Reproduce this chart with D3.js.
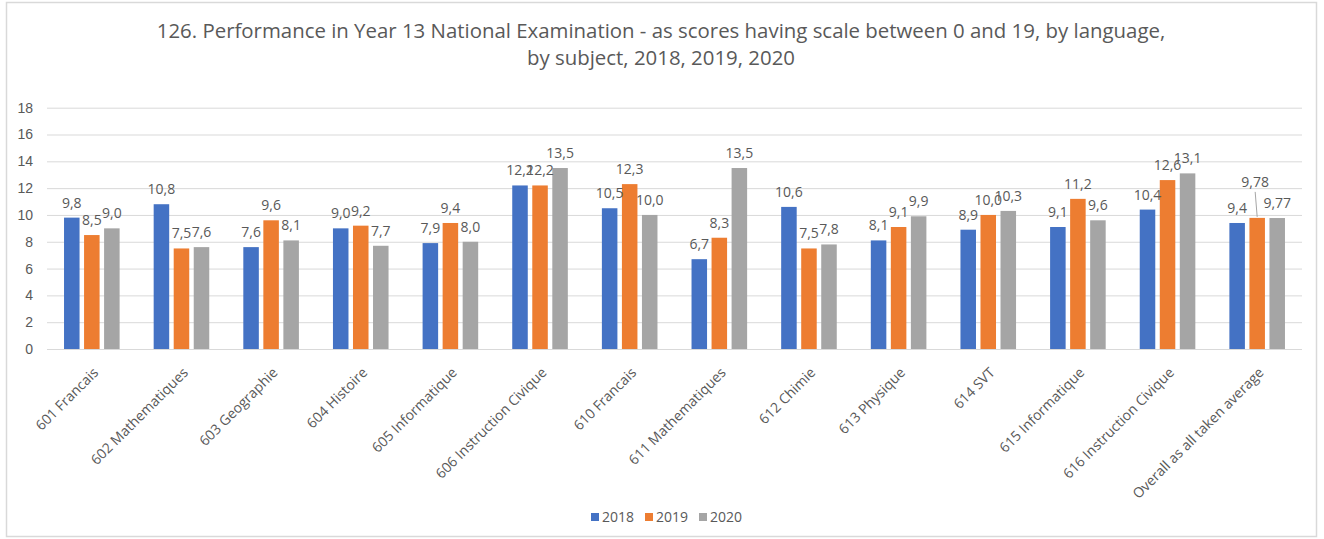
<!DOCTYPE html>
<html>
<head>
<meta charset="utf-8">
<script src="https://cdn.jsdelivr.net/npm/d3@7"></script>
<style>
  body { margin: 0; background: #fff; }
  svg { font-family: "Open Sans", sans-serif; }
  .tick line { stroke: #d9d9d9; }
  .tick text { fill: #595959; font-size: 14px; }
  .lbl { fill: #595959; font-size: 14px; }
</style>
</head>
<body>
<svg id="chart" width="1324" height="539"></svg>
<script>
// chart values
const categories = ["601 Francais", "602 Mathematiques", "603 Geographie", "604 Histoire",
  "605 Informatique", "606 Instruction Civique", "610 Francais", "611 Mathematiques",
  "612 Chimie", "613 Physique", "614 SVT", "615 Informatique", "616 Instruction Civique",
  "Overall as all taken average"];
const years = ["2018", "2019", "2020"];
const v2018 = [9.8, 10.8, 7.6, 9.0, 7.9, 12.2, 10.5, 6.7, 10.6, 8.1, 8.9, 9.1, 10.4, 9.4];
const v2019 = [8.5, 7.5, 9.6, 9.2, 9.4, 12.2, 12.3, 8.3, 7.5, 9.1, 10.0, 11.2, 12.6, 9.78];
const v2020 = [9.0, 7.6, 8.1, 7.7, 8.0, 13.5, 10.0, 13.5, 7.8, 9.9, 10.3, 9.6, 13.1, 9.77];
const yTicks = [0, 2, 4, 6, 8, 10, 12, 14, 16, 18];
const titleLines = ["126. Performance in Year 13 National Examination - as scores having scale between 0 and 19, by language,",
  "by subject, 2018, 2019, 2020"];

const series = {"2018": v2018, "2019": v2019, "2020": v2020};
const colors = d3.scaleOrdinal().domain(years).range(["#4472c4", "#ed7d31", "#a5a5a5"]);

const svg = d3.select("#chart");
const plotLeft = 47, plotRight = 1302, plotTop = 107.7, plotBottom = 349;

// outer frame
svg.append("rect").attr("x", 6.5).attr("y", 2.5).attr("width", 1310).attr("height", 534)
  .attr("fill", "#fff").attr("stroke", "#d9d9d9").attr("stroke-width", 1.5);

// title
svg.append("text").attr("text-anchor", "middle").attr("fill", "#595959")
  .style("font-size", "20.4px")
  .selectAll("tspan").data(titleLines).enter().append("tspan")
  .attr("x", 661).attr("y", (d, i) => 38 + i * 27).text(d => d);

let x = d3.scaleBand().domain(categories).range([plotLeft, plotRight]);
let xs = d3.scaleBand().domain(years).range([0, x.bandwidth()]).paddingInner(0.225).paddingOuter(0.85);
let y = d3.scaleLinear().domain([0, 18]).range([plotBottom, plotTop]);

let y_axis = d3.axisLeft(y).tickValues(yTicks).tickSizeInner(-(plotRight - plotLeft)).tickSizeOuter(0).tickPadding(14);
svg.append("g").attr("class", "axis").attr("transform", `translate(${plotLeft},0)`).call(y_axis)
  .call(g => g.select(".domain").remove());

// bars
let groups = svg.selectAll(".grp").data(categories).enter().append("g")
  .attr("transform", d => `translate(${x(d)},0)`);

const locale = d3.formatLocale({decimal: ",", thousands: " ", grouping: [3], currency: ["", ""]});
const fmt1 = locale.format(".1f"), fmt2 = locale.format(".2f");
const fmtVal = v => (Math.round(v * 100) % 10 !== 0 ? fmt2(v) : fmt1(v));

years.forEach(yr => {
  groups.append("rect")
    .attr("x", xs(yr)).attr("width", xs.bandwidth())
    .attr("y", (d, i) => y(series[yr][i]))
    .attr("height", (d, i) => plotBottom - y(series[yr][i]))
    .attr("fill", colors(yr));
});

// data labels (one is lifted with a leader line, as in the original)
years.forEach(yr => {
  groups.each(function(d, i) {
    let g = d3.select(this);
    let cx = xs(yr) + xs.bandwidth() / 2;
    let ty = y(series[yr][i]);
    let lifted = (d === "Overall as all taken average" && yr === "2019");
    if (lifted) {
      g.append("line").attr("x1", cx - 2).attr("y1", ty - 26).attr("x2", cx).attr("y2", ty - 1)
        .attr("stroke", "#a6a6a6").attr("stroke-width", 1);
    }
    g.append("text").attr("class", "lbl").attr("text-anchor", "middle")
      .attr("x", lifted ? cx - 2 : cx).attr("y", lifted ? ty - 31 : ty - 10)
      .text(fmtVal(series[yr][i]));
  });
});

// category labels
svg.append("g").selectAll("text").data(categories).enter().append("text")
  .attr("class", "lbl")
  .attr("text-anchor", "end").attr("dy", "0.35em")
  .attr("transform", d => `translate(${x(d) + x.bandwidth() / 2 + 4},370) rotate(-45)`)
  .text(d => d);

// legend
let legend = svg.append("g").attr("transform", "translate(591,513)");
let items = legend.selectAll("g").data(years).enter().append("g")
  .attr("transform", (d, i) => `translate(${i * 54},0)`);
items.append("rect").attr("width", 8).attr("height", 8).attr("fill", d => colors(d));
items.append("text").attr("class", "lbl").attr("x", 11).attr("y", 8.5).text(d => d);
</script>
</body>
</html>
